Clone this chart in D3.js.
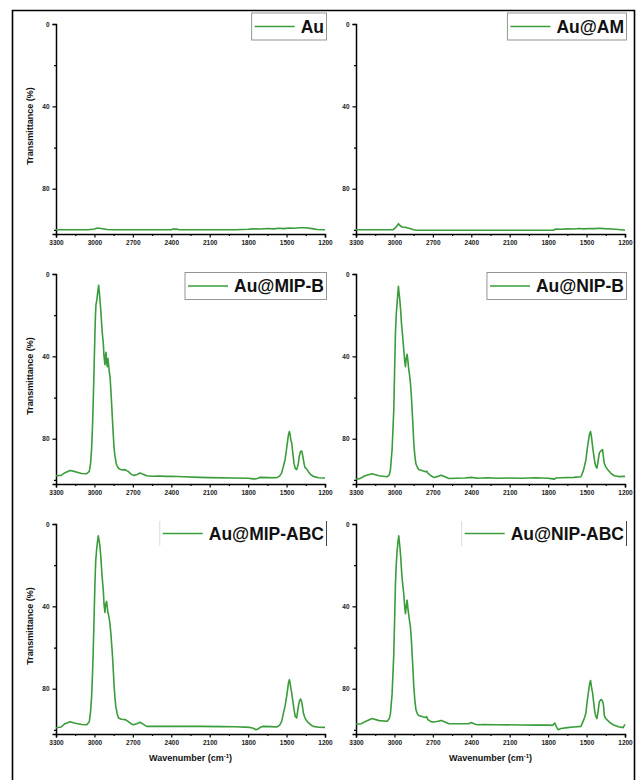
<!DOCTYPE html>
<html>
<head>
<meta charset="utf-8">
<script src="https://cdn.jsdelivr.net/npm/d3@7/dist/d3.min.js"></script>
<style>
  html, body { margin: 0; padding: 0; background: #fff; }
  svg { display: block; font-family: "Liberation Sans", Arial, sans-serif; }
</style>
</head>
<body>
<svg id="chart" width="640" height="780"></svg>
<script>
// FTIR spectra: [wavenumber (cm-1), transmittance (%)]
const au = [[3300,99.9],[3050,99.9],[3000,99.6],[2975,99.1],[2950,99.3],[2900,99.8],[2850,99.9],[2400,99.9],[2380,99.4],[2370,99.8],[2360,99.6],[2340,99.9],[1900,99.9],[1800,99.7],[1760,99.5],[1700,99.6],[1650,99.3],[1600,99.5],[1560,99.2],[1520,99.4],[1480,99.1],[1440,99.2],[1400,99.0],[1350,99.0],[1300,99.4],[1260,99.8],[1200,99.9]];

const auAM = [[3300,99.9],[3100,99.9],[3010,99.9],[2985,98.5],[2968,97.0],[2955,98.0],[2940,98.6],[2910,98.8],[2880,99.3],[2850,99.9],[2830,100.2],[2400,100.2],[1900,100.2],[1760,100.2],[1740,99.6],[1700,99.7],[1650,99.5],[1600,99.6],[1560,99.3],[1520,99.5],[1480,99.3],[1440,99.4],[1400,99.2],[1360,99.4],[1300,99.6],[1250,99.8],[1200,100.2]];

const auMIPB = [[3300,98.0],[3260,97.8],[3230,96.5],[3190,95.4],[3150,96.0],[3100,96.9],[3060,97.0],[3040,95.9],[3030,92],[3022,85],[3015,74],[3009,61],[3002,44],[2996,28.7],[2992,20],[2988,15],[2982,13],[2975,9.2],[2970,7],[2967,5.5],[2963,8],[2957,12.5],[2950,18],[2944,24],[2938,29],[2931,33.5],[2925,40],[2918,44],[2914,40],[2910,38],[2905,43],[2899,45],[2895,41],[2891,43],[2885,47],[2878,50],[2872,56],[2866,62.7],[2860,70],[2852,79],[2846,85],[2839,88.6],[2830,92],[2821,93.5],[2810,94.5],[2800,94.8],[2780,95.2],[2761,95],[2748,95.5],[2735,95.9],[2715,97.2],[2696,97.8],[2670,97.5],[2644,96.7],[2620,97.3],[2592,98],[2550,98.2],[2500,98.1],[2436,98.3],[2400,98.2],[2300,98.5],[2176,98.8],[2100,98.9],[1916,99.1],[1800,99.2],[1760,99.5],[1747,99.6],[1730,99.3],[1708,98.8],[1650,98.9],[1578,99],[1555,98.2],[1539,96.7],[1525,93.5],[1512,90.2],[1500,85],[1494,82],[1485,78],[1478,76.5],[1472,78],[1466,81],[1460,82],[1451,87],[1442,92],[1432,94.5],[1421,95],[1414,93.5],[1408,92],[1402,89],[1395,87],[1388,86],[1382,86],[1376,87.5],[1369,90],[1362,92.5],[1356,94],[1345,94.5],[1330,96],[1310,97.5],[1291,98.3],[1250,99],[1200,99.1]];

const auNIPB = [[3300,99.6],[3270,99.4],[3230,98],[3175,97],[3120,98],[3057,98.5],[3040,97.5],[3031,95],[3018,85],[3005,66],[2998,45],[2992,28.7],[2986,20],[2979,14],[2974,10],[2969,6],[2965,8.5],[2958,12.5],[2951,18],[2945,24],[2936,30],[2927,36.8],[2920,42],[2914,45],[2908,41],[2901,39],[2895,42],[2888,46.5],[2882,49],[2875,53],[2868,59],[2862,66],[2855,74],[2849,82],[2841,88],[2833,92],[2820,94],[2810,95],[2780,95.6],[2757,96],[2748,95.8],[2739,96.7],[2715,98],[2692,98.8],[2660,98.3],[2635,97.7],[2605,98.5],[2575,99.3],[2450,99.1],[2400,98.8],[2350,99.2],[2275,99],[2200,99.2],[2100,99.1],[2000,99.2],[1900,99.0],[1800,99.2],[1765,99.5],[1753,99.7],[1740,99.1],[1700,99],[1600,98.8],[1544,98.5],[1525,95.5],[1515,93],[1505,90.2],[1495,85],[1484,80.5],[1476,77.5],[1469,76.5],[1462,79],[1453,83.7],[1444,88],[1435,91.8],[1427,93.5],[1419,94.3],[1410,91],[1401,87],[1395,86.5],[1388,86],[1381,85.5],[1375,85.3],[1368,89],[1362,91.8],[1352,93.5],[1336,95],[1310,96.8],[1284,98],[1250,98.4],[1200,98.3]];

const auMIPABC = [[3300,99],[3260,98.6],[3230,97],[3190,96],[3150,96.8],[3100,97.4],[3060,97.5],[3040,96],[3030,91],[3022,84],[3015,73],[3009,61],[3002,44],[2996,28.6],[2990,18],[2983,12.5],[2977,9],[2970,5.7],[2965,7.5],[2957,10.8],[2950,16],[2944,22],[2938,27],[2931,32],[2925,39],[2918,43],[2913,39],[2905,37.6],[2899,41],[2895,43],[2890,44],[2883,46.5],[2878,49],[2872,53],[2866,58],[2859,64],[2852,72],[2846,79],[2839,85],[2833,88.6],[2823,92],[2812,94.2],[2790,94.8],[2761,95],[2748,95.4],[2735,96],[2715,97],[2696,97.5],[2670,97],[2644,96.3],[2620,97.2],[2592,98.3],[2500,98.2],[2400,98.3],[2300,98.2],[2176,98.3],[2000,98.4],[1900,98.5],[1785,98.8],[1760,99.2],[1738,99.9],[1720,99.4],[1700,98.6],[1681,98.3],[1620,98.4],[1578,98.6],[1555,97.8],[1539,96],[1525,92],[1512,88.6],[1500,84],[1494,81.3],[1485,77],[1478,75.6],[1472,77.5],[1466,80],[1460,82],[1451,86],[1442,90.2],[1432,93.5],[1421,94.2],[1414,91],[1408,88.6],[1400,86],[1390,85],[1383,86.2],[1376,88.5],[1369,91.8],[1360,93.5],[1350,95],[1330,96.5],[1310,97.6],[1291,98.3],[1250,98.7],[1200,98.8]];

const auNIPABC = [[3300,97.3],[3260,97],[3230,96],[3175,94.5],[3120,95.5],[3057,95.8],[3040,94.5],[3031,92],[3018,82.4],[3005,63],[2998,45],[2992,29],[2986,20],[2979,13],[2973,9],[2966,5.7],[2962,8.5],[2956,12],[2950,17],[2943,24],[2936,29],[2927,34],[2920,40],[2914,43.6],[2908,40],[2901,37],[2895,41],[2888,44.4],[2882,47],[2875,50],[2868,56],[2862,63],[2855,71],[2849,79],[2840,86],[2831,90.5],[2820,92.3],[2810,93],[2780,93.6],[2757,94],[2748,93.6],[2739,95],[2715,96],[2692,96.2],[2660,95.8],[2635,95.4],[2605,96.2],[2575,97],[2500,97],[2420,97],[2400,96.4],[2391,96.7],[2370,97.3],[2352,97.5],[2300,97.4],[2200,97.5],[2000,97.6],[1900,97.7],[1800,97.7],[1766,97.8],[1748,96.7],[1735,98.5],[1722,99.9],[1700,99.3],[1650,98.9],[1600,98.6],[1544,98.3],[1525,95.5],[1515,94],[1505,91.6],[1495,86],[1484,81],[1476,77.5],[1469,76],[1462,79],[1453,82],[1444,87],[1435,91.6],[1427,93.5],[1419,94.5],[1410,91],[1401,86.5],[1392,85.5],[1383,85.3],[1376,86],[1368,88],[1362,93],[1350,94.5],[1336,95.4],[1310,96.8],[1284,97.8],[1250,98.5],[1215,98.9],[1200,97.3]];

const sampleNames = ["Au", "Au@AM", "Au@MIP-B", "Au@NIP-B", "Au@MIP-ABC", "Au@NIP-ABC"];
const spectra = [au, auAM, auMIPB, auNIPB, auMIPABC, auNIPABC];

const xTickValues = [3300, 3000, 2700, 2400, 2100, 1800, 1500, 1200];
const xMinorValues = [3150, 2850, 2550, 2250, 1950, 1650, 1350];
const yTickValues = [0, 40, 80];
const yMinorValues = [20, 60, 100];

// ---- layout ----
const svg = d3.select("#chart");
const lineColor = "#3a9c3a";
const colX = [[56, 325], [356, 625]];
const rowTop = [24, 274, 524];
const plotH = 210;

svg.append("rect").attr("width", 640).attr("height", 780).attr("fill", "#fff");

// outer frame (open at the bottom)
svg.append("path")
  .attr("d", "M12.5,780 V10.5 H634.5 V780")
  .attr("fill", "none").attr("stroke", "#000").attr("stroke-width", 1.6);

spectra.forEach((data, i) => {
  const col = i % 2, row = Math.floor(i / 2);
  const [x0, x1] = colX[col];
  const y0 = rowTop[row], y1 = y0 + plotH;

  const x = d3.scaleLinear().domain([3300, 1200]).range([x0, x1]);
  const y = d3.scaleLinear().domain([0, 102]).range([y0, y1]);

  const g = svg.append("g");

  // x axis
  const xAxis = g.append("g").attr("transform", `translate(0,${y1})`)
    .call(d3.axisBottom(x).tickValues(xTickValues).tickSize(3.5).tickPadding(3).tickFormat(d3.format("d")));
  g.append("g").attr("transform", `translate(0,${y1})`)
    .call(d3.axisBottom(x).tickValues(xMinorValues).tickSize(2).tickFormat(""))
    .call(a => a.select(".domain").remove());

  // y axis
  const yAxis = g.append("g").attr("transform", `translate(${x0},0)`)
    .call(d3.axisLeft(y).tickValues(yTickValues).tickSize(3.5).tickPadding(3).tickFormat(d3.format("d")));
  g.append("g").attr("transform", `translate(${x0},0)`)
    .call(d3.axisLeft(y).tickValues(yMinorValues).tickSize(2).tickFormat(""))
    .call(a => a.select(".domain").remove());

  g.selectAll(".domain").attr("stroke", "#000").attr("stroke-width", 1.5);
  g.selectAll(".tick line").attr("stroke", "#000").attr("stroke-width", 1.2);
  g.selectAll(".tick text")
    .attr("font-family", "'Liberation Sans', Arial, sans-serif")
    .attr("font-size", 6.5).attr("font-weight", "bold").attr("fill", "#222");

  // spectrum
  const line = d3.line().x(d => x(d[0])).y(d => y(d[1]));
  g.append("path").datum(data)
    .attr("d", line)
    .attr("fill", "none").attr("stroke", lineColor)
    .attr("stroke-width", 1.6).attr("stroke-linejoin", "round");

  // y title (left column)
  if (col === 0) {
    g.append("text")
      .attr("transform", `translate(33,${(y0 + y1) / 2 - 3}) rotate(-90)`)
      .attr("text-anchor", "middle")
      .attr("font-size", 9).attr("font-weight", "bold").attr("fill", "#111")
      .text("Transmittance (%)");
  }

  // x title (bottom row)
  if (row === 2) {
    const t = g.append("text")
      .attr("x", (x0 + x1) / 2).attr("y", y1 + 27)
      .attr("text-anchor", "middle")
      .attr("font-size", 9).attr("font-weight", "bold").attr("fill", "#111");
    t.append("tspan").text("Wavenumber (cm");
    t.append("tspan").attr("font-size", 6).attr("dy", -3.5).text("-1");
    t.append("tspan").attr("dy", 3.5).text(")");
  }

  // legend
  const boxRight = x1 + 1.5;
  const lg = g.append("g");
  const lgY = row === 0 ? 26.5 : (row === 1 ? y0 + 12 : y0 + 9.5);
  const label = lg.append("text")
    .attr("y", lgY + 6.3)
    .attr("text-anchor", "end")
    .attr("x", boxRight - 2.5)
    .attr("font-size", 17.5).attr("font-weight", "bold").attr("fill", "#111")
    .text(sampleNames[i]);
  const tw = label.node().getComputedTextLength();
  const textStart = boxRight - 2.5 - tw;
  const lineStart = textStart - 46, lineEnd = textStart - 6;
  const boxLeft = lineStart - 3;
  const boxTop = lgY - 13.5, boxBottom = lgY + 13.5;
  if (row < 2) {
    lg.insert("rect", "text")
      .attr("x", boxLeft).attr("y", boxTop)
      .attr("width", boxRight - boxLeft).attr("height", boxBottom - boxTop)
      .attr("fill", "#fff").attr("stroke", "#8a8a8a").attr("stroke-width", 0.9);
  } else {
    lg.insert("line", "text")
      .attr("x1", boxLeft).attr("x2", boxLeft).attr("y1", boxTop + 1).attr("y2", boxBottom - 1)
      .attr("stroke", "#d8d8d8").attr("stroke-width", 0.9);
    lg.insert("line", "text")
      .attr("x1", boxRight).attr("x2", boxRight).attr("y1", boxTop + 1).attr("y2", boxBottom - 1)
      .attr("stroke", "#444").attr("stroke-width", 1);
  }
  lg.append("line")
    .attr("x1", lineStart).attr("x2", lineEnd).attr("y1", lgY).attr("y2", lgY)
    .attr("stroke", lineColor).attr("stroke-width", 1.6);
});
</script>
</body>
</html>
